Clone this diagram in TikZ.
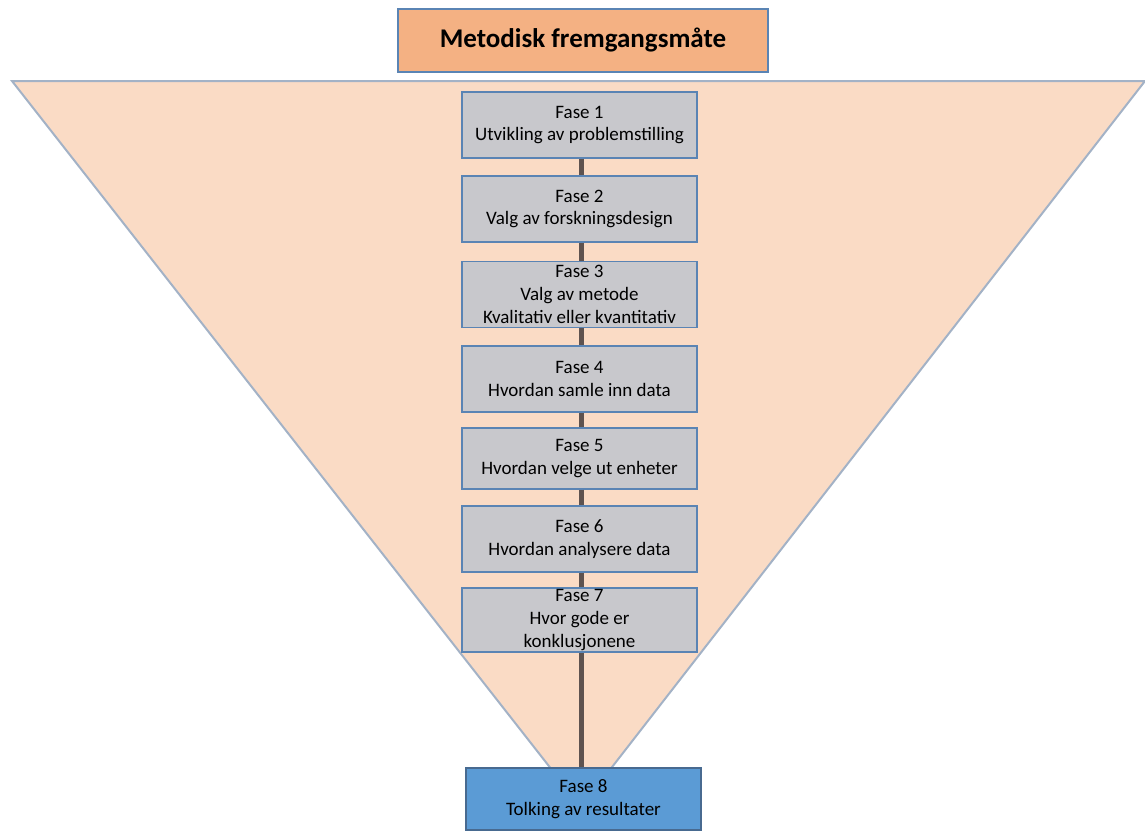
\documentclass[tikz,border=0pt]{standalone}
\usepackage{fontspec}
\setmainfont{Carlito}
\usetikzlibrary{positioning}

\definecolor{titlefill}{HTML}{F4B183}
\definecolor{funnelfill}{HTML}{FADBC5}
\definecolor{funnelline}{HTML}{A3B2C6}
\definecolor{phasefill}{HTML}{C8C8CC}
\definecolor{phaseline}{HTML}{5A84B4}
\definecolor{resultfill}{HTML}{5B9BD5}
\definecolor{linkcolor}{HTML}{5E5350}

\tikzset{
    phase/.style={draw=phaseline, line width=1.3pt, fill=phasefill, rectangle,
        minimum width=235pt, minimum height=66pt, inner xsep=2pt, inner ysep=0pt,
        align=center, text=black, font=\fontsize{19}{22.7}\selectfont},
    result/.style={phase, fill=resultfill, draw=phaseline!80!black},
    titlebox/.style={draw=phaseline, line width=1.3pt, fill=titlefill, rectangle,
        minimum width=370pt, minimum height=63pt,
        font=\fontsize{27}{32}\selectfont\bfseries},
    link/.style={draw=linkcolor, line width=5pt}
}

\begin{document}
\begin{tikzpicture}[x=1pt, y=-1pt]
    \useasboundingbox (0,0) rectangle (1145,830);

    % Funnel
    \draw[fill=funnelfill, draw=funnelline, line width=2pt]
        (12,81) -- (1145,81) -- (581,807) -- cycle;

    % Title
    \node[titlebox] (title) at (583,40.5) {Metodisk fremgangsmåte};

    % Phases
    \node[phase] (f1) at (579.5,125) {Fase 1\\Utvikling av problemstilling};
    \node[phase] (f2) at (579.5,209) {Fase 2\\Valg av forskningsdesign};
    \node[phase] (f3) at (579.5,294.5) {Fase 3\\Valg av metode\\Kvalitativ eller kvantitativ};
    \node[phase] (f4) at (579.5,379) {Fase 4\\Hvordan samle inn data};
    \node[phase, minimum height=61pt] (f5) at (579.5,458.5) {Fase 5\\Hvordan velge ut enheter};
    \node[phase] (f6) at (579.5,539) {Fase 6\\Hvordan analysere data};
    \node[phase, minimum height=64pt] (f7) at (579.5,620) {Fase 7\\Hvor gode er\\konklusjonene};
    \node[result, minimum height=62pt] (f8) at (583.5,799) {Fase 8\\Tolking av resultater};

    % Links
    \foreach \a/\b in {f1/f2, f2/f3, f3/f4, f4/f5, f5/f6, f6/f7, f7/f8}
        \draw[link] ([xshift=2pt]\a.south) -- ([xshift=2pt]\a.south |- \b.north);
\end{tikzpicture}
\end{document}
